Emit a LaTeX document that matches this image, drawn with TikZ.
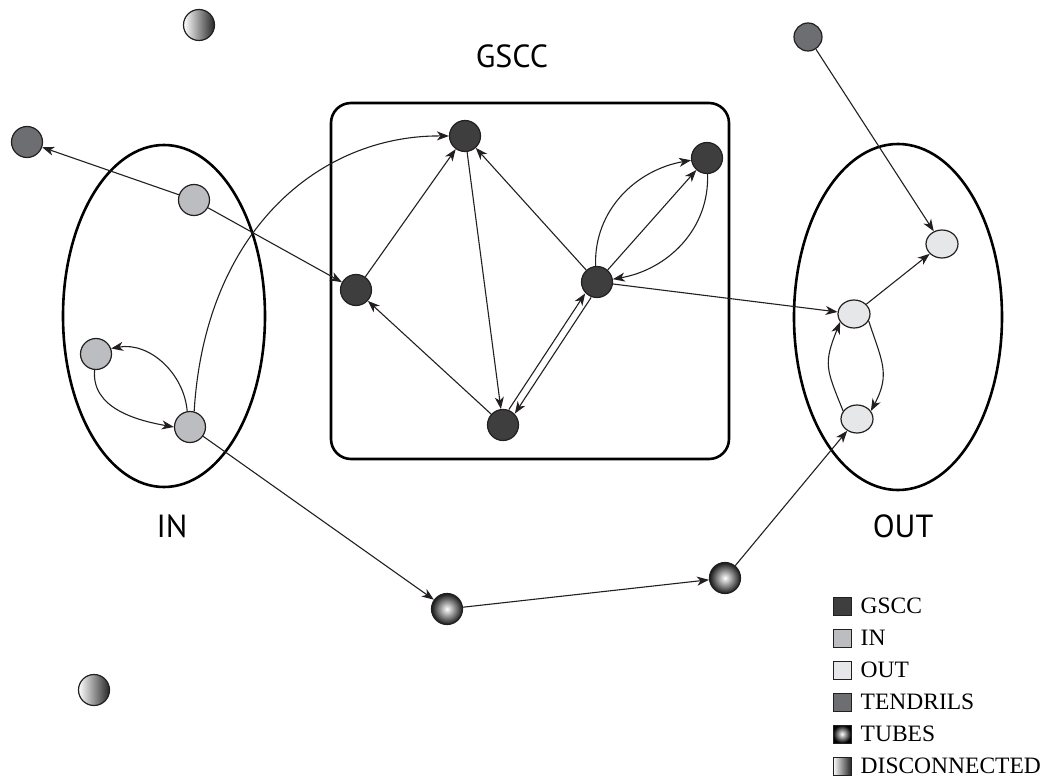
\documentclass[tikz,border=0pt]{standalone}
\usepackage{fontspec}
\setmainfont{Liberation Serif}
\newfontfamily\partfont{PT Sans}
\usetikzlibrary{shapes, arrows.meta, positioning, calc}

\definecolor{gsccfill}{RGB}{62, 62, 62}
\definecolor{infill}{RGB}{188, 189, 192}
\definecolor{outfill}{RGB}{230, 231, 232}
\definecolor{tendrilfill}{RGB}{109, 110, 113}
\definecolor{inkline}{RGB}{35, 31, 32}

\tikzset{
  vertex/.style={circle, draw=inkline, line width=1.2pt, minimum size=31pt, inner sep=0pt},
  gscc/.style={vertex, fill=gsccfill},
  innode/.style={vertex, fill=infill},
  outnode/.style={ellipse, draw=inkline, line width=1.2pt, minimum width=32pt,
                  minimum height=28pt, inner sep=0pt, fill=outfill},
  tendril/.style={vertex, fill=tendrilfill},
  tube/.style={vertex, inner color=white, outer color=black!90},
  island/.style={vertex, left color=white, right color=black!85},
  link/.style={draw=inkline, line width=1.1pt, -{Stealth[length=12pt, width=9pt, inset=3.5pt]}},
  part/.style={line width=2.6pt},
  partname/.style={font=\partfont\fontsize{32}{36}\selectfont},
  key/.style={draw=inkline, line width=1pt, minimum size=18pt, inner sep=0pt},
  keytext/.style={inner sep=0pt, font=\fontsize{23.5}{28}\selectfont}
}

\begin{document}
\begin{tikzpicture}[x=1pt, y=-1pt]
  \useasboundingbox (0,0) rectangle (1050,778);

  % the three regions
  \draw[part, rounded corners=20pt] (331,103) rectangle (729,459);
  \draw[part] (164,316) ellipse [x radius=101, y radius=171];
  \draw[part] (898,317) ellipse [x radius=104, y radius=173];
  \node[partname] (gsccname) at (512,56) {GSCC};
  \node[partname] (inname) at (172,526) {IN};
  \node[partname] (outname) at (903,526) {OUT};

  % vertices
  \node[island] (islandtop) at (199,25) {};
  \node[island] (islandlow) at (94,690) {};
  \node[tendril] (tendrilleft) at (27,142) {};
  \node[tendril, minimum size=28pt] (tendrilright) at (808,37) {};

  \node[innode] (inupper) at (194,200) {};
  \node[innode] (inleft) at (96,354) {};
  \node[innode] (inlower) at (190,427) {};

  \node[gscc] (gtop) at (465,136) {};
  \node[gscc] (gleft) at (356,290) {};
  \node[gscc] (gbot) at (503,425) {};
  \node[gscc] (gmid) at (597,282) {};
  \node[gscc] (gright) at (707,158) {};

  \node[outnode] (outupper) at (942,244) {};
  \node[outnode] (outmid) at (854,314) {};
  \node[outnode] (outlower) at (857,419) {};

  \node[tube] (tubea) at (447,609) {};
  \node[tube] (tubeb) at (725,578) {};

  % IN side
  \draw[link] (inupper) -- (tendrilleft);
  \draw[link] (inupper) -- (gleft);
  \draw[link] (inlower.75) .. controls (205,230) and (320,135) .. (gtop.west);
  \draw[link] (inlower.100) to[out=95, in=10] (inleft.20);
  \draw[link] (inleft.-95) to[out=-95, in=170] (inlower.west);
  \draw[link] (inlower) -- (tubea);

  % tubes
  \draw[link] (tubea) -- (tubeb);
  \draw[link] (tubeb) -- (outlower);

  % inside the GSCC
  \draw[link] (gleft) -- (gtop);
  \draw[link] (gtop) -- (gbot);
  \draw[link] (gbot) -- (gleft);
  \draw[link] (gmid) -- (gtop);
  \draw[link, transform canvas={shift={(-3,-2)}}] (gbot) -- (gmid);
  \draw[link, transform canvas={shift={(3,2)}}] (gmid) -- (gbot);
  \draw[link] (gmid) -- (gright);
  \draw[link] (gmid.95) to[out=92, in=190] (gright.188);
  \draw[link] (gright.-88) to[out=-88, in=10] (gmid.10);

  % OUT side
  \draw[link] (gmid) -- (outmid);
  \draw[link] (outmid) -- (outupper);
  \draw[link] (tendrilright) -- (outupper);
  \draw[link] (outmid.-25) to[out=-72, in=62, looseness=1.2] (outlower.30);
  \draw[link] (outlower.150) to[out=112, in=-112, looseness=1.3] (outmid.210);

  % legend
  \node[key, fill=gsccfill] (keygscc) at (842,606) {};
  \node[key, fill=infill] (keyin) at (842,638) {};
  \node[key, fill=outfill] (keyout) at (842,670) {};
  \node[key, fill=tendrilfill] (keytendril) at (842,702) {};
  \node[key, inner color=white, outer color=black] (keytube) at (842,734) {};
  \node[key, left color=white, right color=black!85] (keyisland) at (842,766) {};
  \node[keytext, right=9pt of keygscc] {GSCC};
  \node[keytext, right=9pt of keyin] {IN};
  \node[keytext, right=9pt of keyout] {OUT};
  \node[keytext, right=9pt of keytendril] {TENDRILS};
  \node[keytext, right=9pt of keytube] {TUBES};
  \node[keytext, right=9pt of keyisland] {DISCONNECTED};
\end{tikzpicture}
\end{document}
